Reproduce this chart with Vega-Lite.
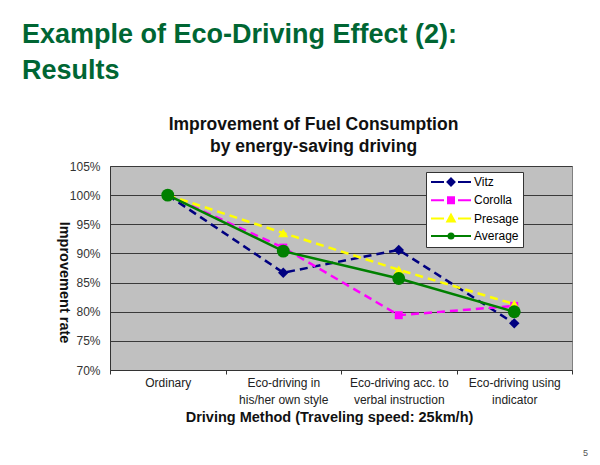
{
  "$schema": "https://vega.github.io/schema/vega-lite/v6.json",
  "autosize": {"type": "none"},
  "width": 462,
  "height": 204,
  "padding": {"left": 110, "top": 166, "right": 28, "bottom": 95},
  "background": "white",
  "title": {
    "text": ["Example of Eco-Driving Effect (2):", "Results"],
    "anchor": "start",
    "frame": "group",
    "dx": -88,
    "offset": 30,
    "font": "Liberation Sans",
    "fontSize": 27,
    "fontWeight": "bold",
    "color": "#006633",
    "lineHeight": 36
  },
  "config": {
    "font": "Liberation Sans",
    "view": {"fill": "#c0c0c0", "stroke": "#808080"}
  },
  "data": {
    "values": [
      {"method": "Ordinary", "car": "Vitz", "value": 1.0},
      {"method": "Ordinary", "car": "Corolla", "value": 1.0},
      {"method": "Ordinary", "car": "Presage", "value": 1.0},
      {"method": "Ordinary", "car": "Average", "value": 1.0},
      {"method": "Eco-driving in\nhis/her own style", "car": "Vitz", "value": 0.867},
      {"method": "Eco-driving in\nhis/her own style", "car": "Corolla", "value": 0.910},
      {"method": "Eco-driving in\nhis/her own style", "car": "Presage", "value": 0.935},
      {"method": "Eco-driving in\nhis/her own style", "car": "Average", "value": 0.904},
      {"method": "Eco-driving acc. to\nverbal instruction", "car": "Vitz", "value": 0.906},
      {"method": "Eco-driving acc. to\nverbal instruction", "car": "Corolla", "value": 0.794},
      {"method": "Eco-driving acc. to\nverbal instruction", "car": "Presage", "value": 0.872},
      {"method": "Eco-driving acc. to\nverbal instruction", "car": "Average", "value": 0.857},
      {"method": "Eco-driving using\nindicator", "car": "Vitz", "value": 0.780},
      {"method": "Eco-driving using\nindicator", "car": "Corolla", "value": 0.810},
      {"method": "Eco-driving using\nindicator", "car": "Presage", "value": 0.813},
      {"method": "Eco-driving using\nindicator", "car": "Average", "value": 0.800}
    ]
  },
  "resolve": {"axis": {"x": "independent", "y": "independent"}},
  "layer": [
    {
      "transform": [{"filter": "datum.car !== 'Average'"}],
      "mark": {"type": "line", "strokeWidth": 2.5, "strokeDash": [8, 5]},
      "encoding": {
        "x": {
          "field": "method", "type": "nominal",
          "sort": ["Ordinary", "Eco-driving in\nhis/her own style", "Eco-driving acc. to\nverbal instruction", "Eco-driving using\nindicator"],
          "scale": {"type": "band", "paddingInner": 0, "paddingOuter": 0},
          "axis": {
            "orient": "bottom",
            "title": "Driving Method (Traveling speed: 25km/h)",
            "titleX": 219, "titleY": 47,
            "titleAlign": "center", "titleBaseline": "middle",
            "titleFont": "Liberation Sans", "titleFontSize": 14.5, "titleFontWeight": "bold", "titleColor": "#111",
            "labelAngle": 0, "labelFont": "Liberation Sans", "labelFontSize": 12, "labelColor": "#222",
            "labelLineHeight": 17, "labelPadding": 3, "labelBaseline": "top", "labelLimit": 0,
            "labelExpr": "split(datum.label, '\\n')",
            "tickBand": "extent", "tickSize": 4, "tickColor": "#333", "domainColor": "#333", "grid": false,
            "encode": {"labels": {"update": {"dx": {"signal": "indexof(datum.value, 'his/her') >= 0 ? -16 : 0"}}}}
          }
        },
        "y": {
          "field": "value", "type": "quantitative",
          "scale": {"domain": [0.7, 1.05], "nice": false, "zero": false},
          "axis": {
            "orient": "left",
            "values": [0.7, 0.75, 0.8, 0.85, 0.9, 0.95, 1.0, 1.05],
            "format": ".0%",
            "title": "Improvement rate",
            "titleAngle": 90, "titleX": -47, "titleY": 116,
            "titleAlign": "center", "titleBaseline": "middle",
            "titleFont": "Liberation Sans", "titleFontSize": 14.5, "titleFontWeight": "bold", "titleColor": "#111",
            "labelFont": "Liberation Sans", "labelFontSize": 12, "labelColor": "#333",
            "ticks": false, "tickSize": 0, "labelPadding": 10,
            "domainColor": "#333", "gridColor": "#3a3a3a", "gridWidth": 1
          }
        },
        "color": {
          "field": "car", "type": "nominal",
          "scale": {"domain": ["Vitz", "Corolla", "Presage", "Average"], "range": ["#000080", "#ff00ff", "#ffff00", "#008000"]},
          "legend": {
            "orient": "none", "legendX": 316, "legendY": 6, "title": null,
            "fillColor": "white", "strokeColor": "#333", "padding": 4,
            "labelFont": "Liberation Sans", "labelFontSize": 12, "labelColor": "black", "labelOffset": 32,
            "labelExpr": "datum.label + '\\u00a0\\u00a0\\u00a0'",
            "symbolSize": 100, "rowPadding": 3.3,
            "encode": {
              "symbols": {
                "update": {
                  "shape": {"signal": "datum.value === 'Vitz' ? 'M-1,0H1.6M4.4,0H7M3,-0.7L3.7,0L3,0.7L2.3,0Z' : datum.value === 'Corolla' ? 'M-1,0H1.6M4.4,0H7M2.4,-0.6H3.6V0.6H2.4Z' : datum.value === 'Presage' ? 'M-1,0H1.6M4.4,0H7M3,-0.8L3.75,0.6H2.25Z' : 'M-1,0H7M2.5,0A0.5,0.5,0,1,1,3.5,0A0.5,0.5,0,1,1,2.5,0Z'"},
                  "fill": {"scale": "color", "field": "value"},
                  "stroke": {"scale": "color", "field": "value"},
                  "strokeWidth": {"value": 2},
                  "opacity": {"value": 1},
                  "size": {"value": 100}
                }
              }
            }
          }
        }
      }
    },
    {
      "transform": [{"filter": "datum.car !== 'Average'"}],
      "mark": {"type": "point", "filled": true, "opacity": 1},
      "encoding": {
        "x": {
          "field": "method", "type": "nominal",
          "sort": ["Ordinary", "Eco-driving in\nhis/her own style", "Eco-driving acc. to\nverbal instruction", "Eco-driving using\nindicator"],
          "scale": {"type": "band", "paddingInner": 0, "paddingOuter": 0},
          "axis": {
            "orient": "top",
            "title": ["Improvement of Fuel Consumption", "by energy-saving driving"],
            "titleX": 203, "titleY": -37,
            "titleAlign": "center", "titleBaseline": "alphabetic",
            "titleFont": "Liberation Sans", "titleFontSize": 17.5, "titleFontWeight": "bold", "titleColor": "#111",
            "titleLineHeight": 22,
            "labels": false, "ticks": false, "domain": false, "grid": false
          }
        },
        "y": {
          "field": "value", "type": "quantitative",
          "scale": {"domain": [0.7, 1.05], "nice": false, "zero": false},
          "axis": {
            "orient": "right",
            "title": "5",
            "titleAngle": 0, "titleX": 13, "titleY": 286,
            "titleAlign": "center", "titleBaseline": "middle",
            "titleFont": "Liberation Sans", "titleFontSize": 9, "titleFontWeight": "normal", "titleColor": "#555",
            "labels": false, "ticks": false, "domain": false, "grid": false
          }
        },
        "color": {"field": "car", "type": "nominal"},
        "shape": {
          "field": "car", "type": "nominal",
          "scale": {"domain": ["Vitz", "Corolla", "Presage"], "range": ["diamond", "square", "triangle-up"]},
          "legend": null
        },
        "size": {
          "field": "car", "type": "nominal",
          "scale": {"type": "ordinal", "domain": ["Vitz", "Corolla", "Presage"], "range": [110, 64, 100]},
          "legend": null
        }
      }
    },
    {
      "transform": [{"filter": "datum.car === 'Average'"}],
      "mark": {"type": "line", "strokeWidth": 2.5},
      "encoding": {
        "x": {
          "field": "method", "type": "nominal",
          "sort": ["Ordinary", "Eco-driving in\nhis/her own style", "Eco-driving acc. to\nverbal instruction", "Eco-driving using\nindicator"],
          "scale": {"type": "band", "paddingInner": 0, "paddingOuter": 0},
          "axis": null
        },
        "y": {"field": "value", "type": "quantitative", "axis": null},
        "color": {"field": "car", "type": "nominal"}
      }
    },
    {
      "transform": [{"filter": "datum.car === 'Average'"}],
      "mark": {"type": "point", "filled": true, "opacity": 1, "shape": "circle", "size": 165},
      "encoding": {
        "x": {
          "field": "method", "type": "nominal",
          "sort": ["Ordinary", "Eco-driving in\nhis/her own style", "Eco-driving acc. to\nverbal instruction", "Eco-driving using\nindicator"],
          "scale": {"type": "band", "paddingInner": 0, "paddingOuter": 0},
          "axis": null
        },
        "y": {"field": "value", "type": "quantitative", "axis": null},
        "color": {"field": "car", "type": "nominal"}
      }
    }
  ]
}
